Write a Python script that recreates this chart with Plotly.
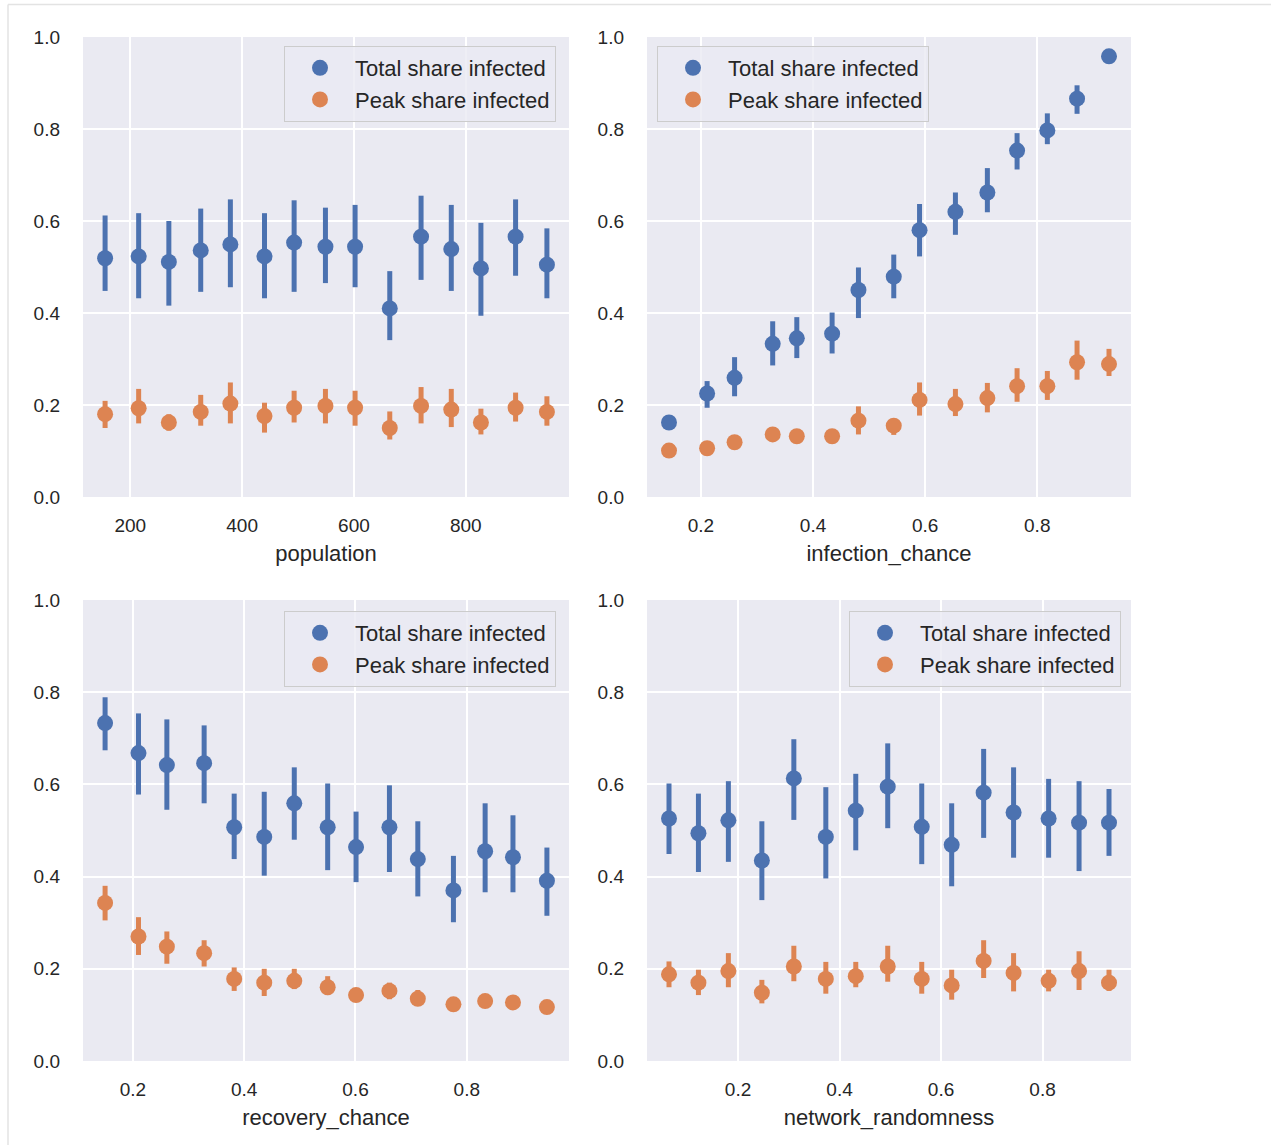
import plotly.graph_objects as go

BLUE = "#4C72B0"
ORANGE = "#DD8452"
FONT = "Liberation Sans, Arial, sans-serif"
TEXT = "#262626"

# ---- population ----
population = [155, 215, 269, 326, 379, 440, 493, 549, 602, 664, 720, 774, 827, 889, 945]
pop_total = [0.519, 0.523, 0.511, 0.536, 0.549, 0.523, 0.553, 0.544, 0.544, 0.410, 0.566, 0.539, 0.497, 0.566, 0.505]
pop_total_lo = [0.448, 0.432, 0.416, 0.446, 0.456, 0.432, 0.446, 0.465, 0.456, 0.341, 0.472, 0.448, 0.394, 0.481, 0.432]
pop_total_hi = [0.612, 0.617, 0.600, 0.627, 0.647, 0.617, 0.645, 0.629, 0.635, 0.491, 0.655, 0.635, 0.596, 0.647, 0.584]
pop_peak = [0.180, 0.193, 0.162, 0.185, 0.203, 0.176, 0.194, 0.198, 0.194, 0.150, 0.198, 0.190, 0.162, 0.194, 0.185]
pop_peak_lo = [0.150, 0.160, 0.144, 0.155, 0.160, 0.140, 0.162, 0.160, 0.155, 0.125, 0.160, 0.152, 0.136, 0.164, 0.155]
pop_peak_hi = [0.209, 0.235, 0.180, 0.222, 0.249, 0.205, 0.231, 0.235, 0.231, 0.186, 0.239, 0.235, 0.192, 0.227, 0.219]

# ---- infection_chance ----
infection_chance = [0.143, 0.211, 0.260, 0.328, 0.371, 0.434, 0.481, 0.544, 0.590, 0.654, 0.711, 0.764, 0.818, 0.871, 0.928]
inf_total = [0.162, 0.225, 0.259, 0.333, 0.345, 0.355, 0.450, 0.479, 0.580, 0.620, 0.662, 0.753, 0.797, 0.866, 0.958]
inf_total_lo = [0.156, 0.194, 0.219, 0.286, 0.302, 0.312, 0.389, 0.432, 0.523, 0.570, 0.619, 0.712, 0.767, 0.833, 0.952]
inf_total_hi = [0.168, 0.252, 0.304, 0.382, 0.391, 0.401, 0.499, 0.527, 0.637, 0.662, 0.715, 0.791, 0.834, 0.895, 0.963]
inf_peak = [0.101, 0.106, 0.119, 0.136, 0.132, 0.132, 0.166, 0.155, 0.211, 0.202, 0.215, 0.241, 0.241, 0.293, 0.289]
inf_peak_lo = [0.095, 0.100, 0.109, 0.123, 0.121, 0.121, 0.136, 0.135, 0.177, 0.176, 0.184, 0.207, 0.211, 0.255, 0.263]
inf_peak_hi = [0.107, 0.112, 0.128, 0.148, 0.144, 0.144, 0.197, 0.168, 0.249, 0.235, 0.248, 0.280, 0.274, 0.340, 0.322]

# ---- recovery_chance ----
recovery_chance = [0.150, 0.210, 0.261, 0.328, 0.382, 0.436, 0.490, 0.550, 0.601, 0.661, 0.712, 0.776, 0.833, 0.883, 0.944]
rec_total = [0.733, 0.668, 0.642, 0.646, 0.507, 0.486, 0.559, 0.507, 0.464, 0.507, 0.438, 0.370, 0.455, 0.442, 0.391]
rec_total_lo = [0.674, 0.578, 0.545, 0.559, 0.438, 0.402, 0.480, 0.414, 0.388, 0.410, 0.357, 0.301, 0.366, 0.366, 0.315]
rec_total_hi = [0.789, 0.754, 0.741, 0.728, 0.580, 0.584, 0.637, 0.602, 0.541, 0.598, 0.520, 0.445, 0.559, 0.533, 0.463]
rec_peak = [0.343, 0.270, 0.248, 0.234, 0.178, 0.170, 0.174, 0.160, 0.143, 0.152, 0.135, 0.123, 0.130, 0.127, 0.117]
rec_peak_lo = [0.305, 0.230, 0.211, 0.205, 0.152, 0.141, 0.156, 0.143, 0.130, 0.134, 0.121, 0.116, 0.122, 0.120, 0.111]
rec_peak_hi = [0.380, 0.312, 0.281, 0.262, 0.203, 0.200, 0.200, 0.184, 0.156, 0.170, 0.154, 0.130, 0.138, 0.134, 0.123]

# ---- network_randomness ----
network_randomness = [0.064, 0.122, 0.181, 0.247, 0.310, 0.373, 0.432, 0.495, 0.562, 0.621, 0.684, 0.743, 0.812, 0.872, 0.931]
net_total = [0.526, 0.494, 0.522, 0.435, 0.613, 0.486, 0.543, 0.595, 0.508, 0.469, 0.582, 0.539, 0.526, 0.517, 0.517]
net_total_lo = [0.449, 0.410, 0.432, 0.349, 0.523, 0.396, 0.457, 0.505, 0.427, 0.379, 0.484, 0.441, 0.441, 0.412, 0.445]
net_total_hi = [0.602, 0.580, 0.607, 0.520, 0.698, 0.594, 0.623, 0.689, 0.602, 0.559, 0.677, 0.637, 0.612, 0.607, 0.590]
net_peak = [0.188, 0.170, 0.195, 0.148, 0.205, 0.178, 0.184, 0.205, 0.178, 0.164, 0.217, 0.191, 0.174, 0.195, 0.170]
net_peak_lo = [0.160, 0.143, 0.160, 0.125, 0.173, 0.146, 0.160, 0.172, 0.146, 0.133, 0.180, 0.151, 0.151, 0.154, 0.152]
net_peak_hi = [0.216, 0.198, 0.234, 0.176, 0.250, 0.215, 0.215, 0.250, 0.215, 0.198, 0.262, 0.234, 0.198, 0.238, 0.198]

x_ticks_population = [200, 400, 600, 800]
x_ticks_share = [0.2, 0.4, 0.6, 0.8]
y_ticks = [0.0, 0.2, 0.4, 0.6, 0.8, 1.0]

panels = [
    ("population", population, pop_total, pop_total_lo, pop_total_hi,
     pop_peak, pop_peak_lo, pop_peak_hi, x_ticks_population, "d"),
    ("infection_chance", infection_chance, inf_total, inf_total_lo, inf_total_hi,
     inf_peak, inf_peak_lo, inf_peak_hi, x_ticks_share, ".1f"),
    ("recovery_chance", recovery_chance, rec_total, rec_total_lo, rec_total_hi,
     rec_peak, rec_peak_lo, rec_peak_hi, x_ticks_share, ".1f"),
    ("network_randomness", network_randomness, net_total, net_total_lo, net_total_hi,
     net_peak, net_peak_lo, net_peak_hi, x_ticks_share, ".1f"),
]

W, H = 1271, 1145
# plot areas in pixels: (left, right, top, bottom)
boxes = [(83, 569, 37, 497), (647, 1131, 37, 497),
         (83, 569, 600, 1061), (647, 1131, 600, 1061)]
# legend top-left corners in pixels
legend_pos = [(284, 46), (657, 46), (284, 611), (849, 611)]

fig = go.Figure()
layout = dict(
    width=W, height=H,
    margin=dict(l=0, r=0, t=0, b=0, autoexpand=False),
    paper_bgcolor="white",
    plot_bgcolor="#EAEAF2",
    font=dict(family=FONT, color=TEXT, size=19),
    shapes=[
        dict(type="line", xref="paper", yref="paper",
             x0=8 / W, x1=1.02, y0=1 - 4.5 / H, y1=1 - 4.5 / H,
             line=dict(color="#E3E3E3", width=1.5)),
        dict(type="line", xref="paper", yref="paper",
             x0=8 / W, x1=8 / W, y0=1 - 4.5 / H, y1=-0.02,
             line=dict(color="#E3E3E3", width=1.5)),
    ],
)


def err(center, lo, hi):
    return dict(type="data", symmetric=False,
                array=[h - c for c, h in zip(center, hi)],
                arrayminus=[c - l for c, l in zip(center, lo)],
                thickness=5, width=0)


for i, (name, xs, tot, tot_lo, tot_hi, pk, pk_lo, pk_hi, xt, xfmt) in enumerate(panels):
    n = i + 1
    sfx = "" if n == 1 else str(n)
    leg = "legend" if n == 1 else f"legend{n}"
    l, r, t, b = boxes[i]
    pad = 0.05 * (max(xs) - min(xs))

    for label, ys, lo, hi, color in (
        ("Total share infected", tot, tot_lo, tot_hi, BLUE),
        ("Peak share infected", pk, pk_lo, pk_hi, ORANGE),
    ):
        e = err(ys, lo, hi)
        e["color"] = color
        fig.add_trace(go.Scatter(
            x=xs, y=ys, mode="markers", name=label,
            marker=dict(color=color, size=16, line=dict(width=0)),
            error_y=e,
            xaxis="x" + sfx, yaxis="y" + sfx,
            legend=leg, showlegend=True,
        ))

    layout["xaxis" + sfx] = dict(
        domain=[l / W, r / W], anchor="y" + sfx,
        range=[min(xs) - pad, max(xs) + pad],
        tickvals=xt, tickformat=xfmt,
        showgrid=True, gridcolor="white", gridwidth=1.5,
        zeroline=False, showline=False, ticks="", automargin=False,
        tickfont=dict(size=19, color=TEXT),
        ticklabelstandoff=15,
        title=dict(text=name, font=dict(size=22, color=TEXT), standoff=10),
    )
    layout["yaxis" + sfx] = dict(
        domain=[1 - b / H, 1 - t / H], anchor="x" + sfx,
        range=[0, 1], tickvals=y_ticks, tickformat=".1f",
        showgrid=True, gridcolor="white", gridwidth=1.5,
        zeroline=False, showline=False, ticks="", automargin=False,
        tickfont=dict(size=19, color=TEXT),
        ticklabelstandoff=22,
    )
    lx, ly = legend_pos[i]
    layout[leg] = dict(
        x=lx / W, y=1 - ly / H, xanchor="left", yanchor="top",
        xref="paper", yref="paper",
        bgcolor="rgba(234,234,242,0.8)", bordercolor="#CCCCCC", borderwidth=1,
        font=dict(size=22, color=TEXT),
        itemwidth=60, tracegroupgap=0,
    )

fig.update_layout(**layout)
fig.write_html("out.html")
